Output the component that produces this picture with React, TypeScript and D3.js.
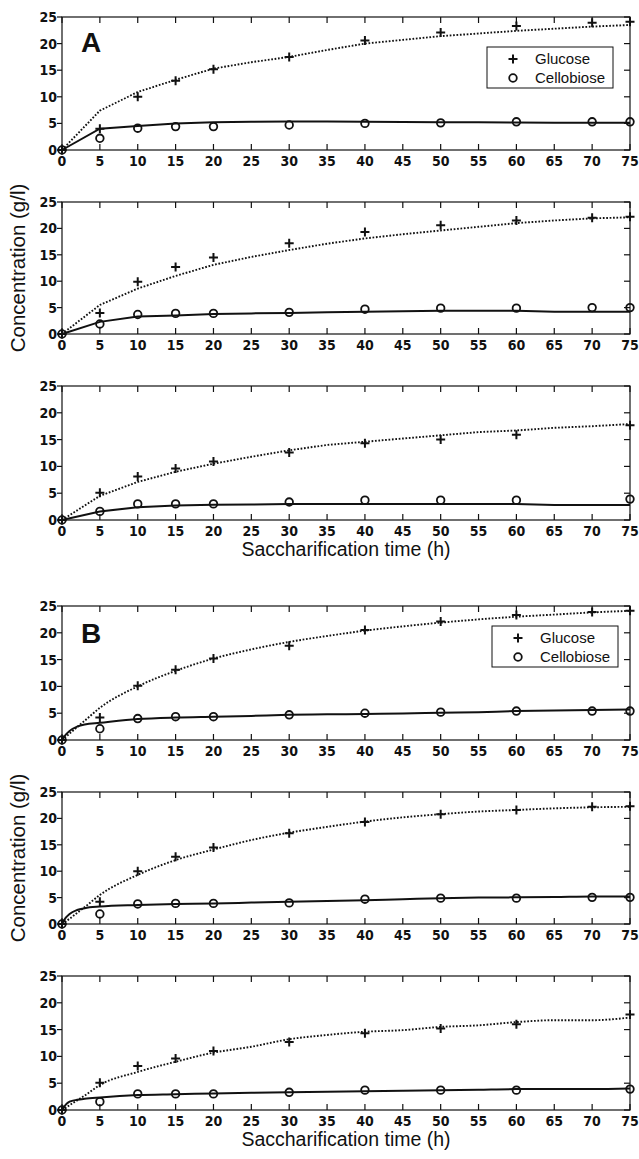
import React from "react";
import * as d3 from "d3";

// measured times (h)
const tMeas = [0, 5, 10, 15, 20, 30, 40, 50, 60, 70, 75];
const tMeasLow = [0, 5, 10, 15, 20, 30, 40, 50, 60, 75];
// model time grids
const tModelA = [0, 5, 10, 15, 20, 25, 30, 35, 40, 45, 50, 55, 60, 65, 70, 75];
const tModelB = [0, 0.5, 1, 2, 3, 5, 10, 15, 20, 25, 30, 35, 40, 45, 50, 55, 60, 65, 70, 75];

// panel A
const a1GluMeas = [0, 4.0, 10.0, 13.0, 15.2, 17.5, 20.6, 22.1, 23.3, 23.9, 24.1];
const a1CelMeas = [0, 2.2, 4.1, 4.4, 4.4, 4.7, 5.0, 5.1, 5.3, 5.3, 5.3];
const a1GluModel = [0, 7.4, 10.9, 13.2, 15.3, 16.5, 17.5, 18.8, 20.0, 20.7, 21.4, 21.9, 22.4, 22.8, 23.2, 23.5];
const a1CelModel = [0, 4.0, 4.5, 5.0, 5.2, 5.3, 5.35, 5.35, 5.3, 5.25, 5.2, 5.2, 5.15, 5.1, 5.1, 5.1];

const a2GluMeas = [0, 4.0, 9.9, 12.7, 14.5, 17.2, 19.3, 20.6, 21.5, 22.0, 22.2];
const a2CelMeas = [0, 1.9, 3.7, 3.9, 3.9, 4.1, 4.7, 4.9, 4.9, 5.0, 5.0];
const a2GluModel = [0, 5.5, 8.6, 11.0, 13.1, 14.6, 15.9, 17.1, 18.1, 18.9, 19.6, 20.3, 21.0, 21.5, 21.9, 22.1];
const a2CelModel = [0, 2.3, 3.3, 3.5, 3.8, 3.9, 4.0, 4.1, 4.2, 4.3, 4.4, 4.4, 4.4, 4.2, 4.2, 4.2];

const a3GluMeas = [0, 5.1, 8.1, 9.6, 10.9, 12.6, 14.3, 15.0, 15.9, 17.7];
const a3CelMeas = [0, 1.6, 3.0, 3.0, 3.0, 3.35, 3.7, 3.7, 3.7, 3.9];
const a3GluModel = [0, 4.5, 7.1, 9.0, 10.5, 11.8, 13.0, 14.0, 14.6, 15.2, 15.8, 16.4, 16.7, 17.2, 17.5, 17.9];
const a3CelModel = [0, 1.6, 2.4, 2.7, 2.85, 2.9, 3.0, 3.0, 3.0, 3.0, 3.0, 3.0, 3.0, 2.8, 2.8, 2.8];

// panel B
const b1GluMeas = [0, 4.2, 10.1, 13.1, 15.2, 17.6, 20.5, 22.1, 23.3, 23.9, 24.1];
const b1CelMeas = [0, 2.1, 4.0, 4.35, 4.35, 4.7, 5.0, 5.2, 5.4, 5.4, 5.4];
const b1GluModel = [0, 0.6, 1.2, 2.4, 3.6, 6.0, 10.0, 12.9, 15.2, 16.9, 18.3, 19.4, 20.4, 21.2, 21.9, 22.5, 23.0, 23.4, 23.8, 24.1];
const b1CelModel = [0, 1.0, 1.7, 2.5, 2.9, 3.2, 3.9, 4.2, 4.35, 4.5, 4.7, 4.8, 4.85, 4.95, 5.1, 5.2, 5.4, 5.5, 5.6, 5.7];

const b2GluMeas = [0, 4.2, 10.0, 12.75, 14.5, 17.2, 19.3, 20.8, 21.6, 22.2, 22.3];
const b2CelMeas = [0, 1.9, 3.8, 3.9, 3.9, 4.0, 4.7, 4.9, 4.9, 5.05, 5.05];
const b2GluModel = [0, 0.5, 1.0, 2.1, 3.2, 5.5, 9.3, 12.1, 14.1, 15.9, 17.3, 18.4, 19.4, 20.2, 20.8, 21.3, 21.6, 21.9, 22.1, 22.2];
const b2CelModel = [0, 1.2, 1.9, 2.65, 3.0, 3.3, 3.6, 3.8, 3.9, 4.05, 4.2, 4.35, 4.5, 4.7, 4.9, 5.0, 5.05, 5.1, 5.2, 5.2];

const b3GluMeas = [0, 5.1, 8.2, 9.6, 11.0, 12.7, 14.3, 15.2, 16.0, 17.8];
const b3CelMeas = [0, 1.55, 3.0, 3.0, 3.0, 3.3, 3.7, 3.7, 3.7, 3.9];
const b3GluModel = [0, 0.45, 0.9, 1.8, 2.7, 4.65, 7.1, 9.0, 10.7, 11.8, 13.2, 14.0, 14.6, 14.9, 15.5, 15.8, 16.4, 16.75, 16.75, 17.25];
const b3CelModel = [0, 1.0, 1.55, 1.9, 2.1, 2.35, 2.8, 2.95, 3.1, 3.2, 3.3, 3.4, 3.5, 3.6, 3.7, 3.8, 3.9, 3.9, 3.9, 4.0];

const xTicks = [0, 5, 10, 15, 20, 25, 30, 35, 40, 45, 50, 55, 60, 65, 70, 75];
const yTicks = [0, 5, 10, 15, 20, 25];
const legendLabels = ["Glucose", "Cellobiose"];

const W = 639;
const H = 1159;
const left = 62;
const right = 630;
const ink = "#111";
const tickFont = "'Liberation Sans Narrow', 'DejaVu Sans Condensed', 'Liberation Sans', Arial, sans-serif";
const textFont = "'Liberation Sans', Arial, Helvetica, sans-serif";

const panels = [
  { top: 17, bottom: 150, tM: tMeas, gm: a1GluMeas, cm: a1CelMeas, tF: tModelA, gf: a1GluModel, cf: a1CelModel, smooth: false, letter: "A", legend: { x: 487, y: 47 } },
  { top: 202, bottom: 334, tM: tMeas, gm: a2GluMeas, cm: a2CelMeas, tF: tModelA, gf: a2GluModel, cf: a2CelModel, smooth: false },
  { top: 386, bottom: 520, tM: tMeasLow, gm: a3GluMeas, cm: a3CelMeas, tF: tModelA, gf: a3GluModel, cf: a3CelModel, smooth: false, xlabel: true },
  { top: 606, bottom: 740, tM: tMeas, gm: b1GluMeas, cm: b1CelMeas, tF: tModelB, gf: b1GluModel, cf: b1CelModel, smooth: true, letter: "B", legend: { x: 492, y: 626 } },
  { top: 792, bottom: 924, tM: tMeas, gm: b2GluMeas, cm: b2CelMeas, tF: tModelB, gf: b2GluModel, cf: b2CelModel, smooth: true },
  { top: 976, bottom: 1110, tM: tMeasLow, gm: b3GluMeas, cm: b3CelMeas, tF: tModelB, gf: b3GluModel, cf: b3CelModel, smooth: true, xlabel: true },
];

const x = d3.scaleLinear().domain([0, 75]).range([left, right]);

const Plus = ({ cx, cy }: { cx: number; cy: number }) => (
  <path d={`M${cx - 4.5},${cy}H${cx + 4.5}M${cx},${cy - 4.5}V${cy + 4.5}`} stroke={ink} strokeWidth={2} />
);

const Ring = ({ cx, cy }: { cx: number; cy: number }) => (
  <circle cx={cx} cy={cy} r={3.8} fill="none" stroke={ink} strokeWidth={1.8} />
);

const Panel = ({ p }: { p: any }) => {
  const y = d3.scaleLinear().domain([0, 25]).range([p.bottom, p.top]);
  const line = d3
    .line<number>()
    .x((d, i) => x(p.tF[i]))
    .y((d) => y(d))
    .curve(p.smooth ? d3.curveMonotoneX : d3.curveLinear);
  return (
    <g>
      <path d={line(p.gf) || ""} fill="none" stroke={ink} strokeWidth={1.9} strokeDasharray="1.7,1.7" />
      <path d={line(p.cf) || ""} fill="none" stroke={ink} strokeWidth={2} />
      {p.tM.map((t: number, i: number) => (
        <Plus key={"g" + i} cx={x(t)} cy={y(p.gm[i])} />
      ))}
      {p.tM.map((t: number, i: number) => (
        <Ring key={"c" + i} cx={x(t)} cy={y(p.cm[i])} />
      ))}
      <rect x={left} y={p.top} width={right - left} height={p.bottom - p.top} fill="none" stroke={ink} strokeWidth={1.2} />
      {xTicks.map((t) => (
        <g key={"xt" + t}>
          <line x1={x(t)} x2={x(t)} y1={p.bottom} y2={p.bottom - 6} stroke={ink} strokeWidth={1.2} />
          <line x1={x(t)} x2={x(t)} y1={p.top} y2={p.top + 6} stroke={ink} strokeWidth={1.2} />
          <text x={x(t)} y={p.bottom + 16} textAnchor="middle" fontFamily={tickFont} fontWeight="bold" fontSize={14} fill={ink}>
            {t}
          </text>
        </g>
      ))}
      {yTicks.map((v) => (
        <g key={"yt" + v}>
          <line x1={left - 5} x2={left} y1={y(v)} y2={y(v)} stroke={ink} strokeWidth={1.2} />
          <line x1={right} x2={right - 6} y1={y(v)} y2={y(v)} stroke={ink} strokeWidth={1.2} />
          <text x={left - 5} y={y(v)} dy="0.36em" textAnchor="end" fontFamily={tickFont} fontWeight="bold" fontSize={14} fill={ink}>
            {v}
          </text>
        </g>
      ))}
      {p.letter && (
        <text x={81} y={p.top + (p.letter === "A" ? 35 : 37)} fontFamily={textFont} fontWeight="bold" fontSize={28} fill={ink}>
          {p.letter}
        </text>
      )}
      {p.legend && (
        <g transform={`translate(${p.legend.x},${p.legend.y})`}>
          <rect x={0} y={0} width={126} height={41} fill="#fff" stroke={ink} strokeWidth={1} />
          <Plus cx={26} cy={12} />
          <Ring cx={26} cy={31} />
          {legendLabels.map((s, i) => (
            <text key={s} x={48} y={12 + i * 19} dy="0.36em" fontFamily={textFont} fontSize={15} fill={ink}>
              {s}
            </text>
          ))}
        </g>
      )}
      {p.xlabel && (
        <text x={(left + right) / 2} y={p.bottom + 36} textAnchor="middle" fontFamily={textFont} fontSize={19.5} fill={ink}>
          Saccharification time (h)
        </text>
      )}
    </g>
  );
};

export default function App() {
  const yLabelCenters = [(panels[1].top + panels[1].bottom) / 2, (panels[4].top + panels[4].bottom) / 2];
  return (
    <svg width={W} height={H} style={{ position: "absolute", left: 0, top: 0, background: "#fff" }}>
      <rect width={W} height={H} fill="#fff" />
      {panels.map((p, i) => (
        <Panel key={i} p={p} />
      ))}
      {yLabelCenters.map((c, i) => (
        <text key={i} transform={`translate(25,${c}) rotate(-90)`} textAnchor="middle" fontFamily={textFont} fontSize={20.5} fill={ink}>
          Concentration (g/l)
        </text>
      ))}
    </svg>
  );
}
